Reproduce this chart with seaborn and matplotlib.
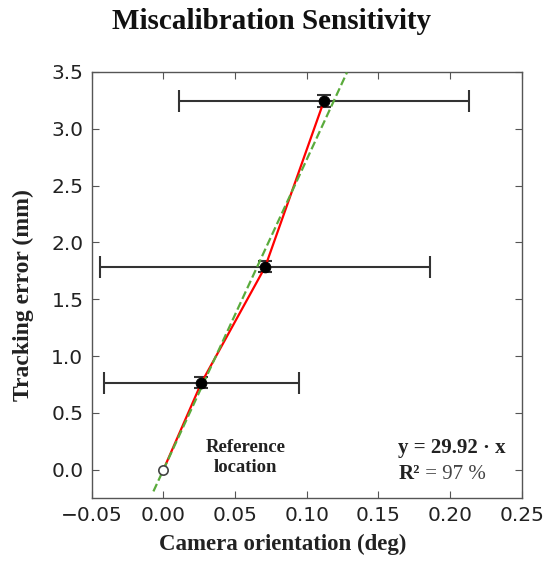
import seaborn as sns
import pandas as pd
import numpy as np
import matplotlib.pyplot as plt

# measured points (camera orientation vs tracking error)
orient = [0.0, 0.0265, 0.071, 0.112]
error = [0.0, 0.765, 1.785, 3.245]
orient_err = [0.0, 0.068, 0.115, 0.101]
error_err = [0.0, 0.05, 0.05, 0.055]

# fitted line, drawn over this x span
fit_x = [-0.007, 0.128]
fit_slope = 27.3

sns.set_style("ticks")
plt.rcParams['font.family'] = ['DejaVu Sans']

df = pd.DataFrame({"orient": orient, "error": error})
fit_df = pd.DataFrame({"x": fit_x, "y": [fit_slope * v for v in fit_x]})

fig = plt.figure(figsize=(5.43, 5.66), dpi=100)
ax = fig.add_axes([0.169, 0.120, 0.792, 0.753])

# error bars: wide caps on x, narrow caps on y
ax.errorbar(orient[1:], error[1:], xerr=orient_err[1:], fmt="none",
            ecolor="#333333", elinewidth=1.5, capsize=8, capthick=1.5, zorder=2)
ax.errorbar(orient[1:], error[1:], yerr=error_err[1:], fmt="none",
            ecolor="#333333", elinewidth=1.5, capsize=5, capthick=1.5, zorder=2)

sns.lineplot(df, x="orient", y="error", color="red", linewidth=1.6,
             sort=False, ax=ax, zorder=3)
sns.lineplot(fit_df, x="x", y="y", color="#5aab3c", linewidth=1.6,
             linestyle="--", ax=ax, zorder=4)

sns.scatterplot(df.iloc[1:], x="orient", y="error", color="black", s=60,
                edgecolor="black", ax=ax, zorder=5)
sns.scatterplot(df.iloc[:1], x="orient", y="error", color="white", s=45,
                edgecolor="#444444", linewidth=1.2, ax=ax, zorder=5)

ax.set_xlim(-0.05, 0.25)
ax.set_ylim(-0.25, 3.5)
ax.set_xticks(np.arange(-0.05, 0.2501, 0.05))
ax.set_yticks(np.arange(0.0, 3.501, 0.5))
ax.set_xticklabels(["\u22120.05", "0.00", "0.05", "0.10", "0.15", "0.20", "0.25"])
ax.tick_params(direction="in", top=True, right=True, labelsize=14.5, length=5,
               width=0.8, color="#555555", pad=6, labelcolor="#222222")
for s in ax.spines.values():
    s.set_color("#555555")
    s.set_linewidth(1.0)

ax.set_xlabel("Camera orientation (deg)", family="Liberation Serif",
              fontweight="bold", fontsize=16.5, color="#222222")
ax.xaxis.set_label_coords(0.444, -0.085)
ax.set_ylabel("Tracking error (mm)", family="Liberation Serif",
              fontweight="bold", fontsize=17, color="#222222")
ax.yaxis.set_label_coords(-0.135, 0.477)
fig.suptitle("Miscalibration Sensitivity", family="Liberation Serif",
             fontweight="bold", fontsize=21, x=0.5, y=0.985, color="#111111")

ax.text(0.0573, 0.11, "Reference\nlocation", family="Liberation Serif",
        fontweight="bold", fontsize=13.5, ha="center", va="center",
        linespacing=1.25, color="#222222")

ax.text(0.2388, 0.193, "y = 29.92 \u00b7 x", family="Liberation Serif",
        fontweight="bold", fontsize=15, ha="right", va="center", color="#222222")
r2 = ax.text(0.164, -0.035, "R\u00b2", family="Liberation Serif",
             fontweight="bold", fontsize=15, ha="left", va="center", color="#222222")
ax.annotate(" = 97 %", xy=(1, 0), xycoords=r2, va="bottom", ha="left",
            family="Liberation Serif", fontsize=15, color="#444444")

plt.savefig("out.png", dpi=100)
